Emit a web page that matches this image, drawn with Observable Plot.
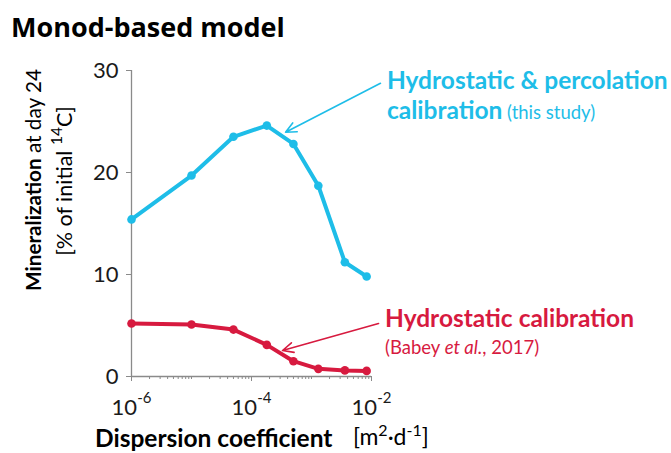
<!DOCTYPE html>
<html>
<head>
<meta charset="utf-8">
<script src="https://cdn.jsdelivr.net/npm/d3@7"></script>
<script src="https://cdn.jsdelivr.net/npm/@observablehq/plot@0.6"></script>
<style>
  body { margin: 0; background: #fff; }
  #title { font-family: "Open Sans", sans-serif; font-weight: 700; font-size: 27px; line-height: 27px;
           height: 37px; padding: 13px 0 0 11px; color: #000; white-space: nowrap; }
  #chart svg { display: block; overflow: visible; }
</style>
</head>
<body>
<div id="title">Monod-based model</div>
<div id="chart"></div>
<script>
// ---- data ----
const dispersion   = [1e-6, 1e-5, 5e-5, 1.8e-4, 5e-4, 1.3e-3, 3.6e-3, 8.3e-3];   // m²·d⁻¹
const percolation  = [15.4, 19.7, 23.5, 24.6, 22.8, 18.7, 11.2, 9.8];           // Hydrostatic & percolation calibration
const hydrostatic  = [5.2, 5.1, 4.6, 3.1, 1.5, 0.75, 0.6, 0.55];               // Hydrostatic calibration (Babey et al., 2017)
const yTicks       = [0, 10, 20, 30];
const xLabelTicks  = [1e-6, 1e-4, 1e-2];
const decadeExps   = [-6, -5, -4, -3];
const mantissas    = [1, 2, 3, 4, 5, 6, 7, 8, 9];
const xMinorTicks  = decadeExps.flatMap(e => mantissas.map(m => m * 10 ** e)).concat([1e-2]);
// annotation arrows (data coordinates): tail near label, head at the curve
const arrowNames = ["percolation", "hydrostatic"];
const arrowX1 = [0.0141, 0.0131];
const arrowY1 = [28.75, 5.2];
const arrowX2 = [3.69e-4, 3.29e-4];
const arrowY2 = [23.95, 2.55];

const BLUE = "#1ebde8", RED = "#d71a3f", AXIS = "#8a8a8a", INK = "#1a1a1a";

const blueRows = dispersion.map((d, i) => ({D: d, M: percolation[i]}));
const redRows  = dispersion.map((d, i) => ({D: d, M: hydrostatic[i]}));
const arrows   = arrowNames.map((n, i) => ({n, x1: arrowX1[i], y1: arrowY1[i], x2: arrowX2[i], y2: arrowY2[i]}));

const plot = Plot.plot({
  width: 671, height: 403,
  marginLeft: 131, marginRight: 300, marginTop: 20, marginBottom: 77,
  x: {type: "log", domain: [1e-6, 1e-2], label: null},
  y: {domain: [0, 30], label: null},
  style: {fontFamily: "Lato, sans-serif", fontSize: "22px", color: INK, background: "#fff", overflow: "visible"},
  marks: [
    Plot.ruleX([1e-6], {y1: 0, y2: 30, stroke: AXIS, strokeWidth: 1.3}),
    Plot.ruleY([0], {x1: 1e-6, x2: 1e-2, stroke: AXIS, strokeWidth: 1.3}),
    Plot.axisY(yTicks, {tickSize: 5, tickPadding: 8, stroke: AXIS, fill: INK, fontSize: 22, label: null}),
    Plot.axisX(xMinorTicks, {tickSize: 3, stroke: AXIS, tickFormat: () => "", label: null}),
    Plot.axisX(xLabelTicks, {tickSize: 5, tickPadding: 18, stroke: AXIS, fill: INK, fontSize: 22, label: null,
                             tickFormat: d => "10^" + Math.round(Math.log10(d))}),
    Plot.line(redRows,  {x: "D", y: "M", stroke: RED,  strokeWidth: 4, strokeLinejoin: "round"}),
    Plot.dot(redRows,   {x: "D", y: "M", r: 4.3, fill: RED}),
    Plot.line(blueRows, {x: "D", y: "M", stroke: BLUE, strokeWidth: 4, strokeLinejoin: "round"}),
    Plot.dot(blueRows,  {x: "D", y: "M", r: 4.3, fill: BLUE}),
    Plot.arrow(arrows.filter(a => a.n === "percolation"), {x1: "x1", y1: "y1", x2: "x2", y2: "y2", stroke: BLUE, strokeWidth: 1.6, headLength: 11, headAngle: 50}),
    Plot.arrow(arrows.filter(a => a.n === "hydrostatic"), {x1: "x1", y1: "y1", x2: "x2", y2: "y2", stroke: RED, strokeWidth: 1.6, headLength: 11, headAngle: 50})
  ]
});
document.getElementById("chart").appendChild(plot);

const svg = d3.select(plot);
const xs = plot.scale("x"), ys = plot.scale("y");

// superscript exponents on x tick labels
svg.selectAll('g[aria-label="x-axis tick label"] text').each(function () {
  const s = this.textContent;
  if (!s.includes("^")) return;
  const [base, exp] = s.split("^");
  const t = d3.select(this);
  t.text(base);
  t.append("tspan").attr("dy", -12).attr("font-size", 15).text(exp);
});

// y-axis title (two rotated lines)
const yt1 = svg.append("text").attr("transform", "translate(33,130) rotate(-90)")
  .attr("text-anchor", "middle").attr("dominant-baseline", "central")
  .attr("font-family", "Lato, sans-serif").attr("font-size", 20.7).attr("fill", "#000");
yt1.append("tspan").attr("font-weight", 700).text("Mineralization");
yt1.append("tspan").text(" at day 24");
const yt2 = svg.append("text").attr("transform", "translate(64,131) rotate(-90)")
  .attr("text-anchor", "middle").attr("dominant-baseline", "central")
  .attr("font-family", "Lato, sans-serif").attr("font-size", 21.5).attr("fill", "#000");
yt2.append("tspan").text("[% of initial ");
yt2.append("tspan").attr("dy", -8).attr("font-size", 15.5).text("14");
yt2.append("tspan").attr("dy", 8).text("C]");

// x-axis title
svg.append("text").attr("x", 95).attr("y", 397).attr("text-anchor", "start")
  .attr("font-family", "Lato, sans-serif").attr("font-size", 24.5).attr("font-weight", 700).attr("fill", "#000")
  .text("Dispersion coefficient");
const xt2 = svg.append("text").attr("x", 353).attr("y", 395).attr("text-anchor", "start")
  .attr("font-family", "Lato, sans-serif").attr("font-size", 23).attr("fill", "#000");
xt2.append("tspan").text("[m");
xt2.append("tspan").attr("dy", -9).attr("font-size", 16).text("2");
xt2.append("tspan").attr("dy", 9).text("·d");
xt2.append("tspan").attr("dy", -9).attr("font-size", 16).text("-1");
xt2.append("tspan").attr("dy", 9).text("]");

// series annotations, anchored at the arrow tails
function label(i, color, lines) {
  const x0 = xs.apply(arrowX1[i]) + 7, y0 = ys.apply(arrowY1[i]);
  lines.forEach(([dy, parts]) => {
    const t = svg.append("text").attr("x", x0).attr("y", y0 + dy).attr("text-anchor", "start")
      .attr("font-family", "Lato, sans-serif").attr("fill", color);
    parts.forEach(([txt, size, weight, style]) => {
      t.append("tspan").attr("font-size", size).attr("font-weight", weight || 400)
        .attr("font-style", style || "normal").text(txt);
    });
  });
}
label(0, BLUE, [
  [6,  [["Hydrostatic & percolation", 24.5, 700]]],
  [36, [["calibration", 24.5, 700], [" (this study)", 18.5, 400]]]
]);
label(1, RED, [
  [4,  [["Hydrostatic calibration", 24.5, 700]]],
  [31, [["(Babey ", 18.5], ["et al.", 18.5, 400, "italic"], [", 2017)", 18.5]]]
]);
</script>
</body>
</html>
